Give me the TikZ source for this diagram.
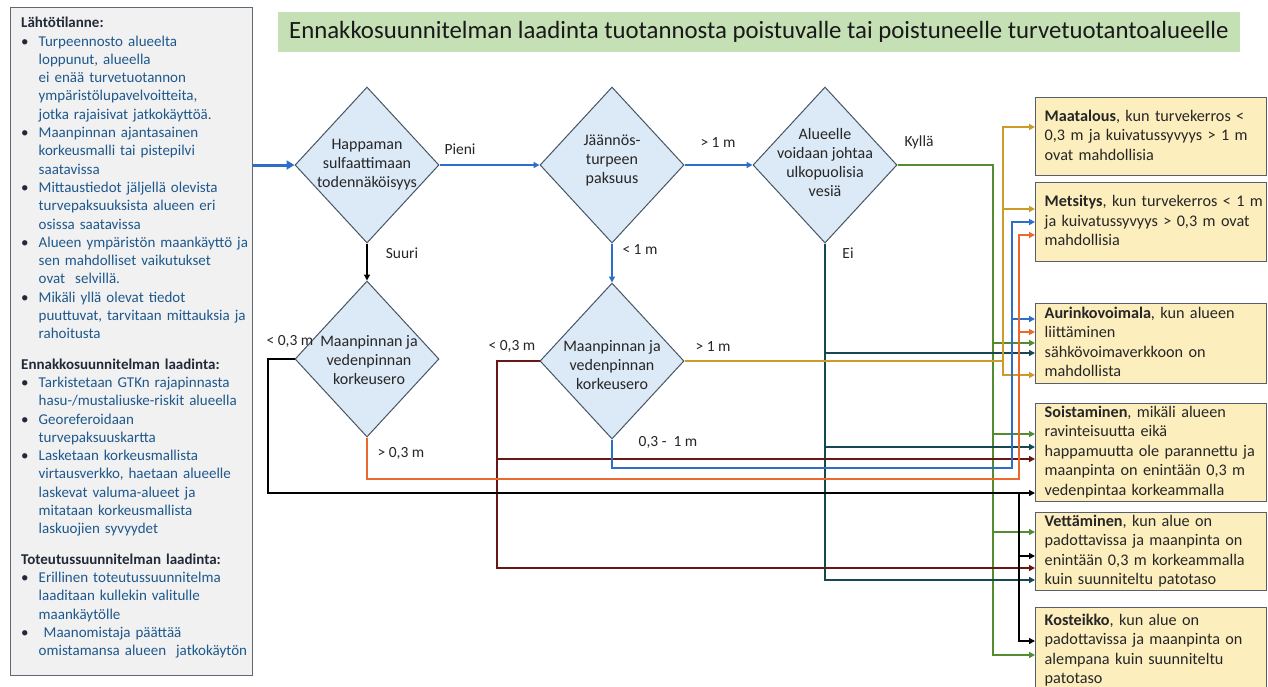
\documentclass[tikz,border=0pt]{standalone}
\usepackage{fontspec}
\setmainfont{Carlito}
\usetikzlibrary{arrows.meta,shapes.geometric,calc}
\definecolor{diafill}{RGB}{220,233,247}
\definecolor{diabord}{RGB}{70,85,100}
\definecolor{boxfill}{RGB}{253,238,190}
\definecolor{boxbord}{RGB}{85,95,110}
\definecolor{panelfill}{RGB}{241,241,242}
\definecolor{panelbord}{RGB}{95,105,115}
\definecolor{titlefill}{RGB}{197,224,180}
\definecolor{bodyblue}{RGB}{30,88,140}
\definecolor{headc}{RGB}{35,42,55}
\definecolor{cblue}{RGB}{45,110,200}
\definecolor{cgreen}{RGB}{84,140,48}
\definecolor{cgold}{RGB}{205,155,40}
\definecolor{corange}{RGB}{235,105,45}
\definecolor{cmaroon}{RGB}{105,22,22}
\definecolor{cteal}{RGB}{22,72,82}
\newcommand\bul{\makebox[17.5pt][l]{\textcolor{headc}{\textbullet}}}
\newcommand\ind{\hspace*{17.5pt}}
\newcommand\hd[1]{\textcolor{headc}{\textbf{#1}}}
\newcommand\bx[1]{\begin{tabular}{@{}l@{}}#1\end{tabular}}
\begin{document}
\begin{tikzpicture}[x=1pt,y=-1pt,
 dia/.style={diamond, draw=diabord, fill=diafill, line width=1pt, minimum width=144pt, minimum height=156pt, inner sep=0pt},
 diatext/.style={align=center, font=\fontsize{16}{19}\selectfont, text=black!85, inner sep=0pt},
 rbox/.style={draw=boxbord, fill=boxfill, line width=1.4pt, minimum width=231pt, anchor=north west, align=left, text width=213pt, inner xsep=9pt, inner ysep=0pt, font=\fontsize{16.2}{19.5}\selectfont, text=black!85},
 lab/.style={font=\fontsize{15.5}{18}\selectfont, text=black!85, inner sep=0pt},
 con/.style={line width=1.5pt},
 tip/.style={-{Triangle[length=6pt,width=6pt]}}]
\useasboundingbox (0,0) rectangle (1268,686);
\fill[white] (0,0) rectangle (1268,686);

% left panel
\node[draw=panelbord, fill=panelfill, line width=1.2pt, minimum width=242pt, minimum height=668pt, anchor=north west, inner sep=0pt] (lp) at (10,7) {};
\node[anchor=north west, align=left, text width=235pt, inner sep=0pt, text=bodyblue, font=\fontsize{15}{18.3}\selectfont] (lpt) at (21,17) {%
\hd{Lähtötilanne:}\\
\bul Turpeennosto alueelta\\
\ind loppunut, alueella\\
\ind ei enää turvetuotannon\\
\ind ympäristölupavelvoitteita,\\
\ind jotka rajaisivat jatkokäyttöä.\\
\bul Maanpinnan ajantasainen\\
\ind korkeusmalli tai pistepilvi\\
\ind saatavissa\\
\bul Mittaustiedot jäljellä olevista\\
\ind turvepaksuuksista alueen eri\\
\ind osissa saatavissa\\
\bul Alueen ympäristön maankäyttö ja\\
\ind sen mahdolliset vaikutukset\\
\ind ovat\ \ selvillä.\\
\bul Mikäli yllä olevat tiedot\\
\ind puuttuvat, tarvitaan mittauksia ja\\
\ind rahoitusta\\[12pt]
\hd{Ennakkosuunnitelman laadinta:}\\
\bul Tarkistetaan GTKn rajapinnasta\\
\ind hasu-/mustaliuske-riskit alueella\\
\bul Georeferoidaan\\
\ind turvepaksuuskartta\\
\bul Lasketaan korkeusmallista\\
\ind virtausverkko, haetaan alueelle\\
\ind laskevat valuma-alueet ja\\
\ind mitataan korkeusmallista\\
\ind laskuojien syvyydet\\[12pt]
\hd{Toteutussuunnitelman laadinta:}\\
\bul Erillinen toteutussuunnitelma\\
\ind laaditaan kullekin valitulle\\
\ind maankäytölle\\
\bul\ Maanomistaja päättää\\
\ind omistamansa alueen\ \ jatkokäytön};

% title
\node[fill=titlefill, minimum width=962pt, minimum height=40pt, inner sep=0pt, font=\fontsize{24.8}{28}\selectfont, text=black!90] (t) at (759,32) {Ennakkosuunnitelman laadinta tuotannosta poistuvalle tai poistuneelle turvetuotantoalueelle};

% diamonds
\node[dia] (d1) at (367,165) {};
\node[dia] (d2) at (612,165) {};
\node[dia] (d3) at (825,165) {};
\node[dia] (d4) at (367,359) {};
\node[dia] (d5) at (612,361) {};
\node[diatext] (d1t) at (367,165) {Happaman\\sulfaattimaan\\todennäköisyys};
\node[diatext] (d2t) at (612,160) {Jäännös-\\turpeen\\paksuus};
\node[diatext] (d3t) at (825,162) {Alueelle\\voidaan johtaa\\ulkopuolisia\\vesiä};
\node[diatext] (d4t) at (369,360) {Maanpinnan ja\\vedenpinnan\\korkeusero};
\node[diatext] (d5t) at (612,365) {Maanpinnan ja\\vedenpinnan\\korkeusero};

% result boxes
\node[rbox, minimum height=78pt] (b1) at (1035,97) {\bx{\textbf{Maatalous}, kun turvekerros <\\0,3 m ja kuivatussyvyys > 1 m\\ovat mahdollisia}};
\node[rbox, minimum height=79pt] (b2) at (1035,182) {\bx{\textbf{Metsitys}, kun turvekerros < 1 m\\ja kuivatussyvyys > 0,3 m ovat\\mahdollisia}};
\node[rbox, minimum height=80pt] (b3) at (1035,303) {\bx{\textbf{Aurinkovoimala}, kun alueen\\liittäminen\\sähkövoimaverkkoon on\\mahdollista}};
\node[rbox, minimum height=96pt] (b4) at (1035,403) {\bx{\textbf{Soistaminen}, mikäli alueen\\ravinteisuutta eikä\\happamuutta ole parannettu ja\\maanpinta on enintään 0,3 m\\vedenpintaa korkeammalla}};
\node[rbox, minimum height=76pt] (b5) at (1035,512) {\bx{\textbf{Vettäminen}, kun alue on\\padottavissa ja maanpinta on\\enintään 0,3 m korkeammalla\\kuin suunniteltu patotaso}};
\node[rbox, minimum height=86pt] (b6) at (1035,607) {\bx{\textbf{Kosteikko}, kun alue on\\padottavissa ja maanpinta on\\alempana kuin suunniteltu\\patotaso}};

% bus coordinates
\coordinate (gx) at (993,0);
\coordinate (yx) at (1003,0);
\coordinate (bx) at (1012,468);
\coordinate (ox) at (1019,479);
\coordinate (kx) at (268,493);
\coordinate (kv) at (1019,493);
\coordinate (mx) at (497,0);

% main flow
\draw[cblue, line width=3pt, -{Triangle[length=8pt,width=9pt]}] (lp.east |- d1.west) -- (d1.west);
\draw[con, cblue, tip] (d1.east) -- (d2.west);
\draw[con, cblue, tip] (d2.east) -- (d3.west);
\draw[con, black, tip] (d1.south) -- (d4.north);
\draw[con, cblue, tip] (d2.south) -- (d5.north);

% Kyllä (green)
\foreach \b/\y in {b3/343,b4/434,b5/532,b6/655}
  \draw[con, cgreen, tip] (d3.east) -| (gx |- 0,\y) -- (\b.west |- 0,\y);
% Ei (teal)
\foreach \b/\y in {b3/353,b4/447,b5/580}
  \draw[con, cteal, tip] (d3.south) |- (\b.west |- 0,\y);
% d5 > 1 m (gold)
\foreach \b/\y in {b1/127,b2/209,b3/375}
  \draw[con, cgold, tip] (d5.east) -| (yx |- 0,\y) -- (\b.west |- 0,\y);
% d5 < 0,3 m (maroon)
\foreach \b/\y in {b4/459,b5/568}
  \draw[con, cmaroon, tip] (d5.west) -| (mx |- 0,\y) -- (\b.west |- 0,\y);
% d5 0,3 - 1 m (blue)
\foreach \b/\y in {b2/222,b3/319}
  \draw[con, cblue, tip] (d5.south) |- (bx) -- (bx |- 0,\y) -- (\b.west |- 0,\y);
% d4 > 0,3 m (orange)
\foreach \b/\y in {b2/235,b3/332}
  \draw[con, corange, tip] (d4.south) |- (ox) -- (ox |- 0,\y) -- (\b.west |- 0,\y);
% d4 < 0,3 m (black)
\draw[con, black, tip] (d4.west) -| (kx) -- (b4.west |- kx);
\foreach \b/\y in {b5/556,b6/641}
  \draw[con, black, tip] (d4.west) -| (kx) -- (kv) -- (kv |- 0,\y) -- (\b.west |- 0,\y);

% edge labels
\node[lab] (l1) at (460,149) {Pieni};
\node[lab] (l2) at (402,253) {Suuri};
\node[lab] (l3) at (640,250) {< 1 m};
\node[lab] (l4) at (718,143) {> 1 m};
\node[lab] (l5) at (919,142) {Kyllä};
\node[lab] (l6) at (848,253) {Ei};
\node[lab] (l7) at (290,341) {< 0,3 m};
\node[lab] (l8) at (512,346) {< 0,3 m};
\node[lab] (l9) at (713,347) {> 1 m};
\node[lab] (l10) at (401,453) {> 0,3 m};
\node[lab] (l11) at (668,442) {0,3 -\ \ 1 m};
\end{tikzpicture}
\end{document}
